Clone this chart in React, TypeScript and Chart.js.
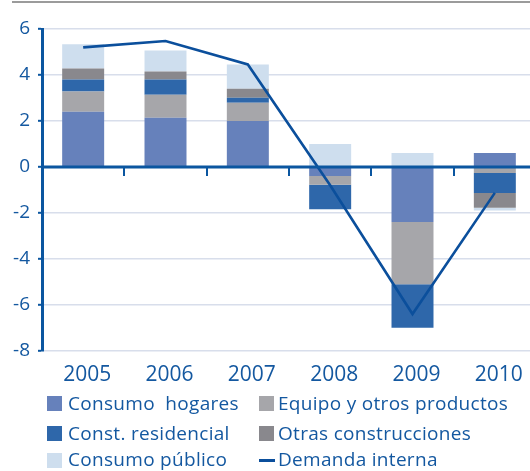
import React, { useEffect, useRef } from "react";
import { Chart, registerables } from "chart.js";

Chart.register(...registerables);

const years = ["2005", "2006", "2007", "2008", "2009", "2010"];
const consumoHogares = [2.4, 2.14, 2.0, -0.4, -2.4, 0.6];
const equipoOtros = [0.88, 1.0, 0.79, -0.38, -2.7, -0.26];
const constResidencial = [0.52, 0.66, 0.22, -1.06, -1.9, -0.87];
const otrasConstrucciones = [0.48, 0.35, 0.39, 0, 0, -0.65];
const consumoPublico = [1.06, 0.92, 1.06, 1.0, 0.6, -0.12];
const demandaInterna = [5.2, 5.48, 4.46, -0.8, -6.4, -1.13];
const yMin = -8;
const yMax = 6;
const yStep = 2;

const C_HOG = "#6681bb";
const C_EQU = "#a6a6aa";
const C_RES = "#2e67aa";
const C_OTR = "#89888d";
const C_PUB = "#cedeee";
const C_LINE = "#0b4f9c";
const C_AXIS = "#0b56a0";
const C_TEXT = "#1458a0";
const FONT = "'Open Sans', sans-serif";

export default function App() {
  const ref = useRef<HTMLCanvasElement>(null);

  useEffect(() => {
    const zeroLine = {
      id: "zeroLine",
      afterDatasetsDraw(chart: any) {
        const { ctx, chartArea, scales } = chart;
        const y0 = scales.y.getPixelForValue(0);
        const xs = scales.x;
        ctx.save();
        ctx.strokeStyle = C_AXIS;
        ctx.lineWidth = 3;
        ctx.beginPath();
        ctx.moveTo(chartArea.left, y0);
        ctx.lineTo(chartArea.right, y0);
        ctx.stroke();
        ctx.lineWidth = 2;
        const half = (xs.getPixelForValue(1) - xs.getPixelForValue(0)) / 2;
        for (let i = 0; i < years.length - 1; i++) {
          const x = Math.round(xs.getPixelForValue(i) + half);
          ctx.beginPath();
          ctx.moveTo(x, y0);
          ctx.lineTo(x, y0 + 9);
          ctx.stroke();
        }
        ctx.restore();
      },
    };

    const barDs = (label: string, data: number[], color: string) => ({
      type: "bar" as const,
      label,
      data,
      backgroundColor: color,
      borderWidth: 0,
      stack: "s",
      barPercentage: 1,
      categoryPercentage: 0.51,
      order: 2,
    });

    const chart = new Chart(ref.current as HTMLCanvasElement, {
      type: "bar",
      data: {
        labels: years,
        datasets: [
          barDs("Consumo  hogares", consumoHogares, C_HOG),
          barDs("Equipo y otros productos", equipoOtros, C_EQU),
          barDs("Const. residencial", constResidencial, C_RES),
          barDs("Otras construcciones", otrasConstrucciones, C_OTR),
          barDs("Consumo público", consumoPublico, C_PUB),
          {
            type: "line" as const,
            label: "Demanda interna",
            data: demandaInterna,
            borderColor: C_LINE,
            borderWidth: 2.6,
            pointRadius: 0,
            tension: 0,
            fill: false,
            stack: "line",
            order: 1,
          } as any,
        ],
      },
      options: {
        responsive: false,
        animation: false,
        devicePixelRatio: 1,
        layout: { padding: { top: 29, right: 9, bottom: 0, left: 0 } },
        plugins: {
          legend: { display: false },
          tooltip: { enabled: false },
        },
        scales: {
          x: {
            stacked: true,
            grid: { display: false, drawTicks: false },
            border: { display: false },
            ticks: {
              color: C_TEXT,
              font: { family: FONT, size: 21 },
              padding: 12,
              labelOffset: 4,
              maxRotation: 0,
              autoSkip: false,
            },
          },
          y: {
            stacked: true,
            min: yMin,
            max: yMax,
            afterFit: (scale: any) => {
              scale.width = 42;
            },
            ticks: {
              stepSize: yStep,
              color: C_TEXT,
              font: { family: FONT, size: 19 },
              padding: 8,
            },
            grid: {
              color: "#d8deeb",
              lineWidth: 1.6,
              tickColor: C_AXIS,
              tickLength: 4,
              tickWidth: 2,
            },
            border: { color: C_AXIS, width: 3 },
          },
        },
      },
      plugins: [zeroLine],
    });
    return () => chart.destroy();
  }, []);

  const legendText: React.CSSProperties = {
    position: "absolute",
    fontFamily: FONT,
    fontSize: 19,
    letterSpacing: "0.3px",
    lineHeight: "22px",
    color: C_TEXT,
    whiteSpace: "pre",
  };
  const sq = (left: number, top: number, color: string): React.CSSProperties => ({
    position: "absolute",
    left,
    top,
    width: 15,
    height: 15,
    background: color,
  });

  return (
    <div
      style={{
        position: "fixed",
        left: 0,
        top: 0,
        width: 530,
        height: 471,
        overflow: "hidden",
        background: "#fff",
      }}
    >
      <div style={{ position: "absolute", left: 12, top: 1, right: 0, height: 2, background: "#9b9b9b" }} />
      <canvas ref={ref} width={545} height={400} style={{ position: "absolute", left: 0, top: 0, width: 545, height: 400 }} />
      <div style={sq(47, 396, C_HOG)} />
      <div style={{ ...legendText, left: 68, top: 391.5 }}>Consumo  hogares</div>
      <div style={sq(259, 396, C_EQU)} />
      <div style={{ ...legendText, left: 278, top: 391.5 }}>Equipo y otros productos</div>
      <div style={sq(47, 426, C_RES)} />
      <div style={{ ...legendText, left: 68, top: 421.8 }}>Const. residencial</div>
      <div style={sq(259, 426, C_OTR)} />
      <div style={{ ...legendText, left: 278, top: 421.8 }}>Otras construcciones</div>
      <div style={sq(47, 453, C_PUB)} />
      <div style={{ ...legendText, left: 68, top: 448.4 }}>Consumo público</div>
      <div style={{ position: "absolute", left: 259, top: 458.5, width: 16, height: 3, background: C_LINE }} />
      <div style={{ ...legendText, left: 278, top: 448.4 }}>Demanda interna</div>
    </div>
  );
}
